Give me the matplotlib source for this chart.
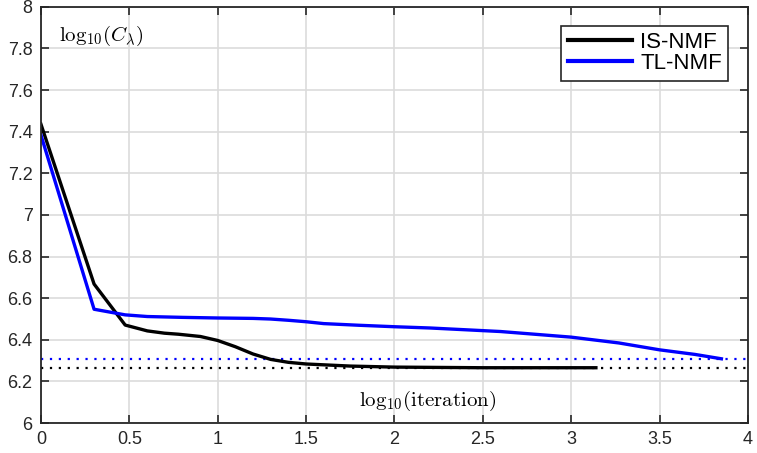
import numpy as np
import matplotlib
matplotlib.use("Agg")
import matplotlib.pyplot as plt

# ---- data ----
is_x = [0.0, 0.301, 0.477, 0.602, 0.699, 0.778, 0.903, 1.0, 1.1, 1.2, 1.3,
        1.4, 1.5, 1.75, 2.0, 2.5, 3.0, 3.14]
is_y = [7.437, 6.668, 6.471, 6.443, 6.432, 6.427, 6.416, 6.397, 6.367, 6.332,
        6.306, 6.292, 6.284, 6.274, 6.269, 6.266, 6.266, 6.266]

tl_x = [0.0, 0.301, 0.477, 0.602, 0.8, 1.0, 1.2, 1.3, 1.4, 1.5, 1.6, 1.8,
        2.0, 2.2, 2.6, 3.0, 3.27, 3.5, 3.7, 3.85]
tl_y = [7.385, 6.547, 6.52, 6.512, 6.508, 6.505, 6.503, 6.5, 6.494, 6.487,
        6.478, 6.47, 6.463, 6.457, 6.44, 6.413, 6.385, 6.352, 6.33, 6.309]

is_final = 6.266
tl_final = 6.309

plt.rcParams['font.family'] = ['Liberation Sans', 'DejaVu Sans']
plt.rcParams['mathtext.fontset'] = 'cm'

fig = plt.figure(figsize=(7.57, 4.53), dpi=100)
ax = fig.add_axes([0.054, 0.066, 0.934, 0.919])

ax.axhline(tl_final, color='blue', linestyle=(0, (1, 3)), linewidth=1.6)
ax.axhline(is_final, color='black', linestyle=(0, (1, 3)), linewidth=1.6)
ax.plot(is_x, is_y, color='black', linewidth=2.4, label='IS-NMF')
ax.plot(tl_x, tl_y, color='blue', linewidth=2.4, label='TL-NMF')

ax.set_xlim(0, 4)
ax.set_ylim(6, 8)
ax.set_xticks(np.arange(0, 4.01, 0.5))
ax.set_xticklabels(['0', '0.5', '1', '1.5', '2', '2.5', '3', '3.5', '4'])
ax.set_yticks(np.arange(6, 8.01, 0.2))
ax.set_yticklabels(['6', '6.2', '6.4', '6.6', '6.8', '7', '7.2', '7.4', '7.6', '7.8', '8'])
ax.grid(True, color='#dcdcdc', linewidth=1.2)
ax.set_axisbelow(True)
ax.tick_params(direction='in', top=True, right=True, length=6, width=1.2,
               labelsize=13, colors='#262626', pad=6)
for s in ax.spines.values():
    s.set_linewidth(1.3)
    s.set_color('#262626')

ax.text(0.1, 7.86, r'$\log_{10}\!(C_\lambda)$', fontsize=15, va='center', ha='left')
ax.text(1.80, 6.105, r'$\log_{10}\!(\mathrm{iteration})$', fontsize=15, va='center', ha='left')

leg = ax.legend(loc='upper right', bbox_to_anchor=(0.9725, 0.955), fontsize=16,
                handlelength=2.9, handletextpad=0.35, borderpad=0.3,
                labelspacing=0.0, fancybox=False, framealpha=1, borderaxespad=0)
leg.get_frame().set_edgecolor('#262626')
leg.get_frame().set_linewidth(1.2)
for ln in leg.get_lines():
    ln.set_linewidth(3)

fig.savefig('out.png', dpi=100)
